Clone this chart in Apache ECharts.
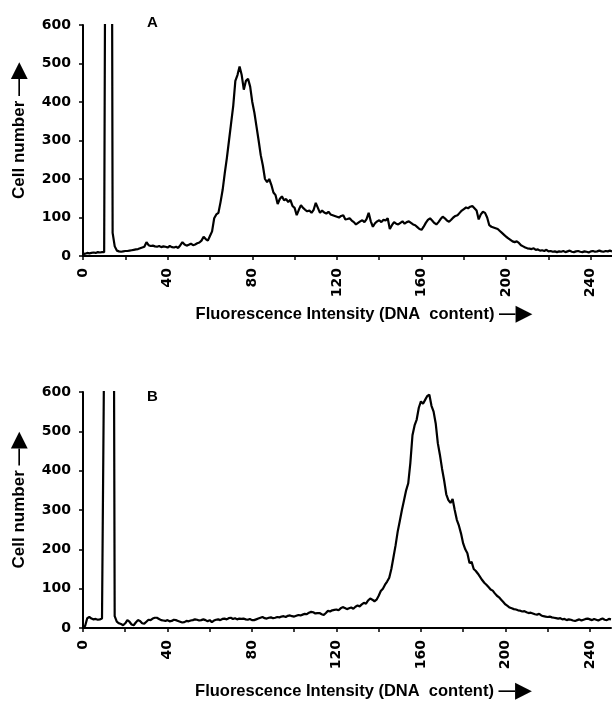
<!DOCTYPE html>
<html>
<head>
<meta charset="utf-8">
<script src="https://cdn.jsdelivr.net/npm/echarts@6/dist/echarts.min.js"></script>
<style>
html,body{margin:0;padding:0;background:#fff;}
#chart{width:612px;height:701px;}
</style>
</head>
<body>
<div id="chart"></div>
<script>
// Histogram counts per fluorescence channel (index = channel 0..250)
const countsA = [
  5,6,8,7,8,9,8,10,9,10, 10,1600,3000,2500,60,25,14,
  12,11,12,13,13,14,15,16,17,18,20,22,24,
  36,28,26,27,25,24,26,23,25,24,22,26,23,22,24,21,
  28,36,30,27,29,32,28,30,33,35,
  40,50,44,40,52,64,98,
  108,112,140,172,215,255,300,345,390,455,470,492,470,432,455,460,440,400,372,336,300,262,235,200,192,200,185,165,158,135,148,155,145,148,140,146,130,125,
  106,120,132,125,120,116,118,112,120,138,125,112,118,113,110,115,108,106,104,102,100,104,106,95,96,98,92,88,82,86,90,93,88,96,112,90,76,85,90,93,88,94,92,98,70,80,88,84,82,86,
  90,84,88,90,86,82,80,75,70,68,76,86,94,98,92,86,82,88,96,102,98,92,89,94,100,104,106,112,118,122,126,124,128,130,124,118,95,108,115,112,100,80,76,74,72,70,65,60,55,50,
  46,42,38,36,38,34,28,25,22,20,19,18,20,16,17,14,15,13,16,12,13,11,12,10,12,11,13,10,12,14,11,10,12,13,11,10,12,11,9,12,13,11,12,14,12,11,13,12,14,12
];
const countsB = [
  2,5,25,28,24,22,23,21,22,24,700,3000,3000,3000,2000,30,16,
  12,10,7,12,20,16,9,7,14,20,18,12,11,16,21,20,24,26,26,23,20,19,18,20,17,18,21,20,18,16,14,15,18,17,
  19,20,22,21,19,20,22,20,17,20,15,19,21,22,20,23,24,22,25,26,23,25,22,24,23,24,22,21,23,20,20,22,24,26,28,25,24,26,27,25,26,28,27,29,30,28,31,32,30,29,
  31,33,32,34,36,35,39,41,40,37,38,38,35,33,38,44,42,45,46,47,45,50,53,51,48,50,52,49,54,57,55,60,64,62,70,75,72,68,72,82,94,100,110,118,128,150,180,210,245,272,
  300,325,350,368,420,490,515,530,560,576,570,580,590,593,565,550,520,470,440,405,375,340,325,318,328,300,275,260,240,215,200,190,165,168,150,145,138,130,122,115,110,104,98,95,88,82,78,72,66,60,
  56,52,50,48,47,45,44,42,43,40,38,39,37,35,34,36,32,30,29,28,29,27,26,25,24,25,22,23,20,22,21,19,18,20,22,19,21,23,24,22,20,23,21,19,22,24,21,20,23,22
];
const xLabelValues = [0,40,80,120,160,200,240];
const yTicks = [0,100,200,300,400,500,600];
const panelLabels = ['A','B'];
const xName = 'Fluorescence Intensity (DNA  content)';
const yName = 'Cell number';

const toPairs = arr => arr.map((v,i)=>[i,v]);
const tickFont = {fontFamily:'DejaVu Sans', fontWeight:'bold', fontSize:14, color:'#000'};

function xAxis(gridIndex, gap){
  return {
    type:'value', gridIndex, min:0, max:250, interval:20,
    axisLine:{lineStyle:{color:'#000', width:2}},
    axisTick:{length:4, lineStyle:{color:'#000', width:1.5}},
    splitLine:{show:false},
    axisLabel:Object.assign({rotate:90, margin:12, formatter:v=> xLabelValues.includes(v) ? String(v) : '', showMaxLabel:false}, tickFont),
    name: xName + ' —{a|▶}',
    nameLocation:'middle', nameGap:gap,
    nameTextStyle:{fontFamily:'Liberation Sans', fontWeight:'bold', fontSize:16.5, color:'#000',
      padding:[0,0,0,33], rich:{a:{fontSize:22, color:'#000', fontFamily:'DejaVu Sans'}}}
  };
}
function yAxis(gridIndex){
  return {
    type:'value', gridIndex, min:0, max:600, interval:100,
    axisLine:{show:true, lineStyle:{color:'#000', width:2}},
    axisTick:{show:true, length:4, lineStyle:{color:'#000', width:1.5}},
    splitLine:{show:false},
    axisLabel:Object.assign({margin:12, formatter:v=> yTicks.includes(v)? String(v):''}, tickFont),
    name: yName + ' —{a|▶}',
    nameLocation:'middle', nameGap:53,
    nameTextStyle:{fontFamily:'Liberation Sans', fontWeight:'bold', fontSize:17, color:'#000',
      padding:[0,0,0,20], rich:{a:{fontSize:22, color:'#000', fontFamily:'DejaVu Sans'}}}
  };
}

const chart = echarts.init(document.getElementById('chart'), null, {renderer:'canvas'});
chart.setOption({
  animation:false,
  backgroundColor:'#fff',
  title:[
    {text:panelLabels[0], left:142, top:10, textStyle:{fontFamily:'Liberation Sans', fontWeight:'bold', fontSize:15, color:'#000'}},
    {text:panelLabels[1], left:142, top:384, textStyle:{fontFamily:'Liberation Sans', fontWeight:'bold', fontSize:15, color:'#000'}}
  ],
  grid:[
    {left:83, right:0, top:25, height:231, containLabel:false, outerBoundsMode:'none'},
    {left:83, right:1, top:392, height:236, containLabel:false, outerBoundsMode:'none'}
  ],
  xAxis:[xAxis(0,47), xAxis(1,52)],
  yAxis:[yAxis(0), yAxis(1)],
  series:[
    {type:'line', xAxisIndex:0, yAxisIndex:0, data:toPairs(countsA), showSymbol:false, clip:true,
     lineStyle:{color:'#000', width:2.2}},
    {type:'line', xAxisIndex:1, yAxisIndex:1, data:toPairs(countsB), showSymbol:false, clip:true,
     lineStyle:{color:'#000', width:2.2}}
  ]
});
</script>
</body>
</html>
